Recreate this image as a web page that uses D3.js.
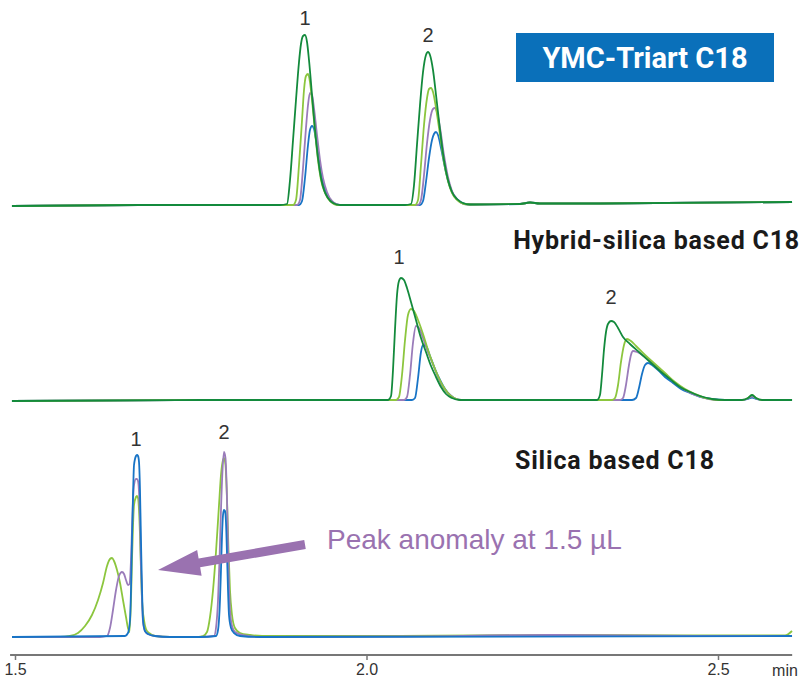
<!DOCTYPE html>
<html><head><meta charset="utf-8">
<script src="https://cdn.jsdelivr.net/npm/d3@7"></script>
<style>html,body{margin:0;padding:0;background:#fff}</style>
</head><body><svg id="c" width="802" height="679"></svg>
<script>
// ---------- DATA (time in min, signal in arbitrary units) ----------
const tickValues = [1.5, 2.0, 2.5];
const axisUnit = "min";
const panelTitles = ["YMC-Triart C18", "Hybrid-silica based C18", "Silica based C18"];
const seriesNames = ["darkgreen", "lightgreen", "purple", "blue"];
const peakLabels = ["1", "2"];
const annotation = "Peak anomaly at 1.5 µL";

// Panel 1: YMC-Triart C18
const topDarkGreen = [[1.4957,-1],[1.6920,0],[1.8770,0],[1.8869,1],[1.8912,25],[1.8955,65],[1.8997,105],[1.9040,143],[1.9068,161],[1.9097,169],[1.9125,170],[1.9154,163],[1.9182,145],[1.9225,110],[1.9268,75],[1.9310,47],[1.9353,27],[1.9396,15],[1.9452,7],[1.9524,2],[1.9623,0],
 [2.0548,0],[2.0633,1],[2.0676,20],[2.0718,60],[2.0761,100],[2.0804,133],[2.0846,150],[2.0875,153],[2.0903,150],[2.0946,135],[2.0989,110],[2.1046,75],[2.1102,45],[2.1159,25],[2.1216,13],[2.1287,6],[2.1373,2],[2.1472,0.5],[2.2184,1],[2.2326,2.5],[2.2468,1.5],[2.3321,1.5],[2.6053,3]];
const topLightGreen = [[1.4957,-1],[1.6920,0],[1.8955,0],[1.8997,5],[1.9040,40],[1.9083,85],[1.9111,115],[1.9139,129],[1.9168,131],[1.9196,123],[1.9225,105],[1.9268,73],[1.9310,45],[1.9353,25],[1.9410,12],[1.9481,4],[1.9595,0],
 [2.0690,0],[2.0733,5],[2.0775,40],[2.0818,80],[2.0861,107],[2.0889,116],[2.0918,117],[2.0946,113],[2.0989,97],[2.1046,70],[2.1102,43],[2.1159,24],[2.1216,12],[2.1287,5],[2.1387,1],[2.1501,0.5],[2.2184,1],[2.2326,2.5],[2.2468,1.5],[2.3321,1.5],[2.6053,3]];
const topPurple = [[1.4957,-1],[1.6920,0],[1.9011,0],[1.9054,5],[1.9097,37],[1.9139,77],[1.9168,100],[1.9196,112],[1.9225,110],[1.9253,97],[1.9296,70],[1.9339,45],[1.9381,27],[1.9438,13],[1.9509,4],[1.9623,0],
 [2.0733,0],[2.0775,5],[2.0818,30],[2.0861,62],[2.0903,85],[2.0946,96],[2.0974,97],[2.1003,93],[2.1046,77],[2.1102,50],[2.1159,28],[2.1216,14],[2.1287,6],[2.1387,1],[2.1501,0.5],[2.2184,1],[2.2326,2.5],[2.2468,1.5],[2.3321,1.5],[2.6053,3]];
const topBlue = [[1.4957,-1],[1.6920,0],[1.9040,0],[1.9083,4],[1.9125,27],[1.9168,60],[1.9196,75],[1.9225,79],[1.9253,76],[1.9282,65],[1.9324,45],[1.9367,27],[1.9424,13],[1.9495,4],[1.9623,0],
 [2.0761,0],[2.0804,4],[2.0846,23],[2.0889,47],[2.0932,65],[2.0960,71],[2.0989,73],[2.1017,70],[2.1060,57],[2.1117,37],[2.1174,21],[2.1230,11],[2.1302,5],[2.1401,1],[2.1529,0.5],[2.2184,1],[2.2326,2.5],[2.2468,1.5],[2.3321,1.5],[2.6053,3]];

// Panel 2: Hybrid-silica based C18
const midDarkGreen = [[1.4957,-1],[1.7632,0],[2.0306,0],[2.0349,4],[2.0377,30],[2.0405,70],[2.0434,105],[2.0462,119],[2.0491,122],[2.0533,120],[2.0576,112],[2.0633,98],[2.0704,80],[2.0775,62],[2.0846,48],[2.0918,34],[2.0989,23],[2.1060,13],[2.1131,6],[2.1216,2],[2.1330,0],
 [2.3037,0],[2.3279,0],[2.3321,5],[2.3350,25],[2.3378,50],[2.3407,68],[2.3435,76],[2.3478,79],[2.3521,78],[2.3578,72],[2.3649,63],[2.3748,56],[2.3891,47],[2.4033,38],[2.4175,29],[2.4317,21],[2.4460,13],[2.4602,8],[2.4744,4],[2.4915,1],[2.5100,0],[2.5342,0],[2.5427,2],[2.5484,5],[2.5541,2],[2.5626,0],[2.6053,0]];
const midLightGreen = [[1.4957,-1],[1.7632,0],[2.0420,0],[2.0462,3],[2.0505,25],[2.0548,60],[2.0590,85],[2.0633,91],[2.0676,89],[2.0733,80],[2.0804,66],[2.0875,50],[2.0946,36],[2.1017,24],[2.1088,14],[2.1159,7],[2.1245,2],[2.1358,0],
 [2.3492,0],[2.3535,2],[2.3578,15],[2.3620,38],[2.3663,55],[2.3706,61],[2.3762,59],[2.3834,54],[2.3962,45],[2.4104,36],[2.4246,27],[2.4388,18],[2.4531,11],[2.4673,6],[2.4815,2],[2.5000,0],[2.5342,0],[2.5427,2],[2.5484,5],[2.5541,2],[2.5626,0],[2.6053,0]];
const midPurple = [[1.4957,-1],[1.7632,0],[2.0533,0],[2.0576,3],[2.0619,25],[2.0661,57],[2.0704,74],[2.0747,72],[2.0804,62],[2.0875,48],[2.0946,36],[2.1017,23],[2.1088,13],[2.1159,7],[2.1245,2],[2.1358,0],
 [2.3606,0],[2.3649,2],[2.3691,15],[2.3734,35],[2.3762,45],[2.3791,49],[2.3848,48],[2.3962,43],[2.4104,35],[2.4246,26],[2.4388,17],[2.4531,10],[2.4673,5],[2.4815,2],[2.5000,0],[2.5342,0],[2.5427,1.5],[2.5484,3.5],[2.5541,1.5],[2.5626,0],[2.6053,0]];
const midBlue = [[1.4957,-1],[1.7632,0],[2.0647,0],[2.0690,2],[2.0733,22],[2.0775,48],[2.0804,55],[2.0846,54],[2.0903,44],[2.0974,31],[2.1046,20],[2.1117,11],[2.1188,5],[2.1273,1],[2.1387,0],
 [2.3777,0],[2.3834,2],[2.3876,12],[2.3919,26],[2.3962,35],[2.4004,37],[2.4061,35],[2.4147,30],[2.4246,23],[2.4360,17],[2.4474,11],[2.4602,7],[2.4744,3],[2.4915,1],[2.5100,0],[2.5342,0],[2.5427,1],[2.5484,2.5],[2.5541,1],[2.5626,0],[2.6053,0]];

// Panel 3: Silica based C18
const botLightGreen = [[1.4957,0],[1.5640,0],[1.5782,1],[1.5896,4],[1.5996,11],[1.6095,22],[1.6181,37],[1.6252,54],[1.6309,71],[1.6351,78],[1.6380,79],[1.6408,76],[1.6451,67],[1.6494,54],[1.6536,37],[1.6579,20],[1.6607,9],[1.6629,5],[1.6650,37],[1.6664,77],[1.6679,112],[1.6693,132],[1.6721,140],[1.6735,141],[1.6750,139],[1.6764,127],[1.6778,102],[1.6792,67],[1.6807,37],[1.6835,17],[1.6863,8],[1.6906,4],[1.6991,1],[1.7205,0],
 [1.7560,0],[1.7674,1],[1.7731,5],[1.7774,20],[1.7817,47],[1.7859,85],[1.7902,132],[1.7930,162],[1.7959,177],[1.7973,179],[1.7994,172],[1.8016,137],[1.8037,87],[1.8058,47],[1.8087,22],[1.8129,9],[1.8201,4],[1.8343,2],[1.8514,1],[2.0477,1],[2.2610,2],[2.4744,1.5],[2.5953,1.5],[2.6053,6]];
const botPurple = [[1.4957,0],[1.6209,0],[1.6309,1],[1.6351,9],[1.6394,27],[1.6437,47],[1.6479,61],[1.6522,65],[1.6551,63],[1.6579,57],[1.6607,52],[1.6629,53],[1.6650,77],[1.6664,107],[1.6679,137],[1.6693,152],[1.6721,158],[1.6735,158],[1.6750,156],[1.6764,145],[1.6778,117],[1.6792,72],[1.6807,37],[1.6821,15],[1.6849,6],[1.6892,3],[1.6991,1],[1.7205,0],
 [1.7632,0],[1.7831,1],[1.7859,9],[1.7888,37],[1.7909,77],[1.7930,127],[1.7952,167],[1.7973,185],[1.7994,179],[1.8016,137],[1.8030,92],[1.8044,52],[1.8058,27],[1.8087,11],[1.8129,5],[1.8229,2],[1.8485,0],[2.0477,0.5],[2.2610,2],[2.4744,1],[2.6053,1]];
const botBlue = [[1.4957,0],[1.6565,1],[1.6607,4],[1.6636,17],[1.6650,47],[1.6664,97],[1.6679,142],[1.6693,172],[1.6721,181],[1.6735,182],[1.6750,181],[1.6764,175],[1.6778,147],[1.6792,97],[1.6807,47],[1.6821,17],[1.6849,6],[1.6892,3],[1.6991,1],[1.7205,0],
 [1.7632,0],[1.7859,1],[1.7888,7],[1.7916,37],[1.7930,67],[1.7945,102],[1.7959,122],[1.7973,127],[1.7987,126],[1.8001,115],[1.8016,82],[1.8030,47],[1.8044,22],[1.8073,9],[1.8115,4],[1.8201,1],[1.8485,0],[2.6053,1]];

// peak label positions (time, signal of apex)
const topPeaks = [[1.9125,170],[2.0875,153]];
const midPeaks = [[2.0462,122],[2.3478,79]];
const botPeaks = [[1.6721,182],[1.7973,185]];

// ---------- DRAWING ----------
const colors = {darkgreen:"#138a3c", lightgreen:"#8cc63e", purple:"#9a7cba", blue:"#1874c6"};
const svg = d3.select("#c");
const x = d3.scaleLinear().domain([1.5, 2.5]).range([15, 718]);

const panels = [
  {base:205, traces:[["blue",topBlue],["purple",topPurple],["lightgreen",topLightGreen],["darkgreen",topDarkGreen]], peaks:topPeaks, off:[10,10]},
  {base:400, traces:[["blue",midBlue],["purple",midPurple],["lightgreen",midLightGreen],["darkgreen",midDarkGreen]], peaks:midPeaks, off:[14,17]},
  {base:637, traces:[["lightgreen",botLightGreen],["purple",botPurple],["blue",botBlue]], peaks:botPeaks, off:[9,13]}
];

panels.forEach(p => {
  const y = d3.scaleLinear().domain([0, 200]).range([p.base, p.base - 200]);
  const line = d3.line().x(d => x(d[0])).y(d => y(d[1])).curve(d3.curveMonotoneX);
  const g = svg.append("g");
  p.traces.forEach(([name, data]) => {
    g.append("path").datum(data).attr("d", line)
      .attr("fill","none").attr("stroke", colors[name]).attr("stroke-width", 1.8)
      .attr("stroke-linejoin","round");
  });
  p.peaks.forEach((pk, i) => {
    g.append("text").attr("x", x(pk[0])).attr("y", y(pk[1]) - p.off[i])
      .attr("text-anchor","middle").attr("font-family","Liberation Sans, Arial, sans-serif")
      .attr("font-size", 20).attr("fill","#333").text(peakLabels[i]);
  });
});

// axis
const axisY = 655;
const ax = svg.append("g").attr("transform", `translate(0,${axisY})`)
  .call(d3.axisBottom(x).tickValues(tickValues).tickFormat(d3.format(".1f")).tickSize(5).tickPadding(4));
ax.select(".domain").remove();
ax.selectAll(".tick line").attr("stroke","#777").attr("stroke-width",1.5);
ax.selectAll(".tick text").attr("font-family","Liberation Sans, Arial, sans-serif").attr("font-size",16).attr("fill","#333");
svg.append("line").attr("x1", x(1.493)).attr("x2", x(2.6055)).attr("y1", axisY).attr("y2", axisY)
  .attr("stroke","#777").attr("stroke-width",2);
svg.append("text").attr("x", 785).attr("y", axisY + 21).attr("text-anchor","middle")
  .attr("font-family","Liberation Sans, Arial, sans-serif").attr("font-size",16).attr("fill","#333").text(axisUnit);

// title box
svg.append("rect").attr("x",516).attr("y",33).attr("width",258).attr("height",49).attr("fill","#0a70ba");
svg.append("text").attr("x",645).attr("y",68).attr("text-anchor","middle")
  .attr("font-family","Roboto, sans-serif").attr("font-weight","bold").attr("font-size",29).attr("fill","#fff").text(panelTitles[0]);
svg.append("text").attr("x",800).attr("y",249).attr("text-anchor","end")
  .attr("font-family","Roboto, sans-serif").attr("font-weight","bold").attr("font-size",25).attr("letter-spacing",0.8).attr("fill","#1a1a1a").text(panelTitles[1]);
svg.append("text").attr("x",515).attr("y",469).attr("text-anchor","start")
  .attr("font-family","Roboto, sans-serif").attr("font-weight","bold").attr("font-size",25).attr("letter-spacing",0.8).attr("fill","#1a1a1a").text(panelTitles[2]);

// annotation arrow
const purpleA = "#9a72b0";
const tail = [305, 544.5], tip = [158, 570];
const dx = tip[0]-tail[0], dy = tip[1]-tail[1], L = Math.hypot(dx,dy);
const ux = dx/L, uy = dy/L, nx = -uy, ny = ux;
const headLen = 42, headW = 13, shaftW = 4.5;
const hb = [tip[0]-ux*headLen, tip[1]-uy*headLen];
const pts = [
  [tail[0]+nx*shaftW, tail[1]+ny*shaftW],
  [hb[0]+nx*shaftW, hb[1]+ny*shaftW],
  [hb[0]+nx*headW, hb[1]+ny*headW],
  tip,
  [hb[0]-nx*headW, hb[1]-ny*headW],
  [hb[0]-nx*shaftW, hb[1]-ny*shaftW],
  [tail[0]-nx*shaftW, tail[1]-ny*shaftW]
];
svg.append("path").attr("d", d3.line()(pts) + "Z").attr("fill", purpleA);
svg.append("text").attr("x",327).attr("y",549).attr("font-family","Liberation Sans, Arial, sans-serif")
  .attr("font-size",28).attr("fill",purpleA).text(annotation);
</script></body></html>
